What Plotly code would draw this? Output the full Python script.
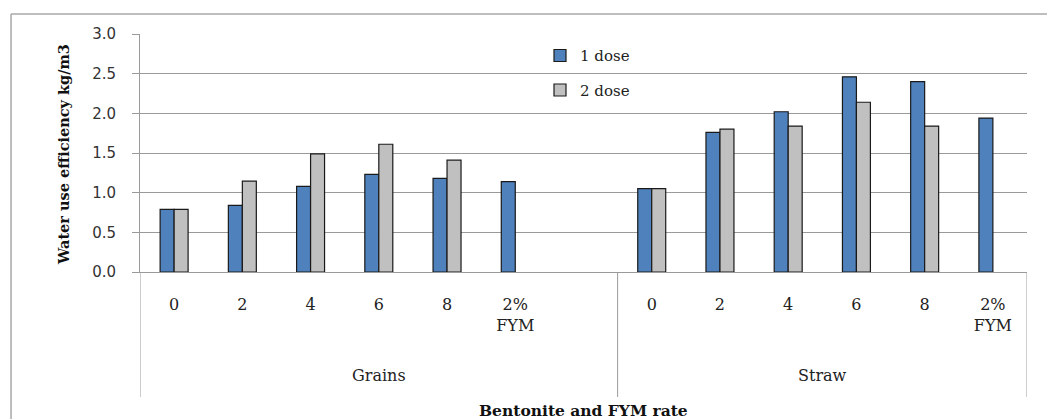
import plotly.graph_objects as go

# ---- data ----
groups = ["Grains", "Straw"]
grain_rates = ["0", "2", "4", "6", "8", "2%<br>FYM", ""]
straw_rates = ["0", "2", "4", "6", "8", "2%<br>FYM"]
grains_dose1 = [0.79, 0.84, 1.08, 1.23, 1.18, 1.14, None]
grains_dose2 = [0.79, 1.145, 1.49, 1.61, 1.41, None, None]
straw_dose1 = [1.05, 1.76, 2.02, 2.46, 2.40, 1.94]
straw_dose2 = [1.05, 1.80, 1.84, 2.14, 1.84, None]
series_names = ["1 dose", "2 dose"]
y_ticks = [0.0, 0.5, 1.0, 1.5, 2.0, 2.5, 3.0]

labels = grain_rates + straw_rates
xpos = list(range(len(labels)))
dose1 = grains_dose1 + straw_dose1
dose2 = grains_dose2 + straw_dose2

SERIF = "DejaVu Serif"
GRID = "#9a9a9a"

fig = go.Figure()
fig.add_trace(go.Bar(x=xpos, y=dose1, name=series_names[0], legendgroup="a",
                     marker=dict(color="#4F81BD", line=dict(color="#1a1a1a", width=1.2))))
fig.add_trace(go.Bar(x=xpos, y=dose2, name=series_names[1], legendgroup="b",
                     marker=dict(color="#C0C0C0", line=dict(color="#1a1a1a", width=1.2))))

n_g = len(grain_rates)
n_s = len(straw_rates)
bounds = [-0.5, n_g - 0.5, n_g + n_s - 0.5]

shapes = []
for b in bounds:
    shapes.append(dict(type="line", xref="x", yref="paper", x0=b, x1=b, y0=0, y1=-0.525,
                       line=dict(color=GRID, width=1)))
# outer chart border (top and left)
shapes.append(dict(type="line", xref="paper", yref="paper", x0=-0.1454, x1=1.1,
                   y0=1.084, y1=1.084, line=dict(color="#a8a8a8", width=1.5)))
shapes.append(dict(type="line", xref="paper", yref="paper", x0=-0.1454, x1=-0.1454,
                   y0=1.084, y1=-0.7, line=dict(color="#a8a8a8", width=1.5)))

annotations = [
    dict(text=groups[0], x=(0 + n_g - 1) / 2, y=(272 - 375) / 238, xref="x", yref="paper",
         xanchor="center", yanchor="middle",
         showarrow=False, font=dict(family=SERIF, size=16, color="#222")),
    dict(text=groups[1], x=n_g + (n_s - 1) / 2, y=(272 - 375) / 238, xref="x", yref="paper",
         xanchor="center", yanchor="middle",
         showarrow=False, font=dict(family=SERIF, size=16, color="#222")),
    dict(text="<b>Bentonite and FYM rate</b>", x=(583 - 140) / 887, y=(272 - 410) / 238,
         xref="paper", yref="paper", xanchor="center", yanchor="middle", showarrow=False,
         font=dict(family=SERIF, size=15.5, color="#111")),
    dict(text="<b>Water use efficiency kg/m3</b>", x=(63 - 140) / 887, y=(272 - 155) / 238,
         xref="paper", yref="paper", xanchor="center", yanchor="middle",
         showarrow=False, textangle=-90,
         font=dict(family=SERIF, size=14.5, color="#111")),
]

fig.update_layout(
    width=1047, height=419,
    margin=dict(l=140, r=20, t=34, b=147),
    paper_bgcolor="white", plot_bgcolor="white",
    barmode="group", bargap=0.59, bargroupgap=0,
    showlegend=True,
    legend=dict(x=(540 - 140) / 887, y=0.978, xanchor="left", yanchor="top",
                tracegroupgap=12, traceorder="grouped",
                font=dict(family=SERIF, size=15, color="#222"),
                bgcolor="rgba(0,0,0,0)"),
    shapes=shapes,
    annotations=annotations,
    xaxis=dict(range=[-0.5, len(labels) - 0.5], tickmode="array", tickvals=xpos, ticktext=labels,
               showgrid=False, zeroline=False, showline=True, linecolor=GRID, linewidth=1,
               ticks="", ticklabelstandoff=18,
               tickfont=dict(family=SERIF, size=16, color="#222")),
    yaxis=dict(range=[0, 3], tickmode="array", tickvals=y_ticks,
               ticktext=[f"{v:.1f}" for v in y_ticks],
               showgrid=True, gridcolor=GRID, gridwidth=1, zeroline=False,
               showline=True, linecolor=GRID, linewidth=1,
               ticks="outside", ticklen=7, tickcolor=GRID, ticklabelstandoff=13,
               tickfont=dict(family="DejaVu Sans", size=15, color="#333")),
)

fig.write_html("out.html")
